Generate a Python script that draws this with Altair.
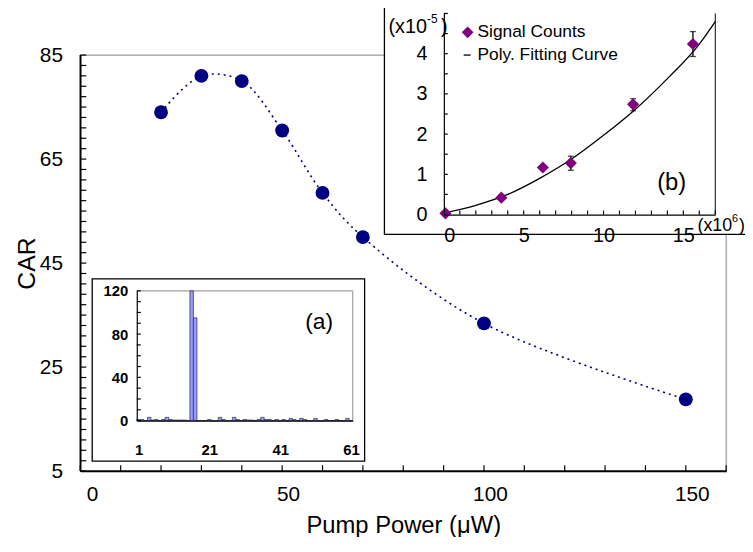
import altair as alt
import pandas as pd

# ---------------- data ----------------
# main chart
pump_power = [20, 30, 40, 50, 60, 70, 100, 150]
car = [74.0, 81.0, 80.0, 70.5, 58.5, 50.0, 33.4, 18.8]
main_x_ticks = list(range(0, 161, 10))
main_y_ticks = list(range(5, 86, 2))
main_x_labels = [0, 50, 100, 150]
main_y_labels = [5, 25, 45, 65, 85]

# inset (a): coincidence histogram
bins_a = list(range(1, 62))
counts_a = [1, 1, 0, 3, 0.5, 1, 0, 1, 3, 1,
            0.5, 0.5, 0.5, 0.5, 0, 120, 95, 0, 0, 0,
            1, 0, 0, 3, 1, 0, 0, 3, 1, 0,
            1, 0.5, 0.5, 0, 1, 3, 1, 1, 0, 1,
            0, 1, 0, 2, 1, 0, 2, 1, 0, 0,
            2, 0, 0, 1, 0, 0, 1, 0, 0, 2, 0]
a_x_labels = [1, 21, 41, 61]
a_y_labels = [0, 40, 80, 120]
a_y_ticks = list(range(0, 121, 10))

# inset (b): signal counts vs pump
sig_x = [0.1, 3.6, 6.2, 7.95, 11.85, 15.6]
sig_y = [0.03, 0.42, 1.17, 1.28, 2.74, 4.24]
err_x = [7.95, 11.85, 15.6]
err_lo = [1.10, 2.58, 3.93]
err_hi = [1.45, 2.88, 4.55]
fit_x = [0, 2, 4, 6, 8, 10, 12, 14, 16, 17]
fit_y = [0.04, 0.23, 0.50, 0.90, 1.38, 1.97, 2.62, 3.38, 4.24, 4.80]
b_x_labels = [0, 5, 10, 15]
b_y_labels = [0, 1, 2, 3, 4]
b_x_ticks = list(range(0, 18))
b_y_ticks = [i * 0.5 for i in range(0, 11)]

FONT = "Liberation Sans"
W, H = 652, 420
one = pd.DataFrame({"a": [0]})


def text(s, x, y, size, align="left", weight="normal", baseline="middle"):
    return alt.Chart(one).mark_text(
        text=s, fontSize=size, align=align, baseline=baseline,
        font=FONT, fontWeight=weight, color="black"
    ).encode(x=alt.value(x), y=alt.value(y))


def hline(x0, x1, y, color="black", width=1.2):
    return alt.Chart(one).mark_rule(color=color, strokeWidth=width).encode(
        x=alt.value(x0), x2=alt.value(x1), y=alt.value(y))


def vline(x, y0, y1, color="black", width=1.2):
    return alt.Chart(one).mark_rule(color=color, strokeWidth=width).encode(
        x=alt.value(x), y=alt.value(y0), y2=alt.value(y1))


def dom_dims(scale):
    d = scale.domain
    return d[0], d[1]


def x_ticks_rule(vals, sx, sy, ypx_len, plot_px, width=1.2):
    """vertical inward ticks along the bottom axis of a panel (all fields on its scales)"""
    y0, y1 = dom_dims(sy)
    L = (y1 - y0) * ypx_len / plot_px
    df = pd.DataFrame({"t": vals, "ya": [y0] * len(vals), "yb": [y0 + L] * len(vals)})
    return alt.Chart(df).mark_rule(color="black", strokeWidth=width).encode(
        x=alt.X("t:Q", scale=sx, axis=None),
        y=alt.Y("ya:Q", scale=sy, axis=None), y2="yb:Q")


def y_ticks_rule(vals, sx, sy, xpx_len, plot_px, width=1.2):
    """horizontal inward ticks along the left axis of a panel"""
    x0, x1 = dom_dims(sx)
    L = (x1 - x0) * xpx_len / plot_px
    df = pd.DataFrame({"t": vals, "xa": [x0] * len(vals), "xb": [x0 + L] * len(vals)})
    return alt.Chart(df).mark_rule(color="black", strokeWidth=width).encode(
        y=alt.Y("t:Q", scale=sy, axis=None),
        x=alt.X("xa:Q", scale=sx, axis=None), x2="xb:Q")


def axis_lines(sx, sy, width=1.6):
    """left and bottom axis lines of a panel drawn as data rules"""
    x0, x1 = dom_dims(sx)
    y0, y1 = dom_dims(sy)
    left = alt.Chart(pd.DataFrame({"xa": [x0], "ya": [y0], "yb": [y1]})).mark_rule(
        color="black", strokeWidth=width).encode(
        x=alt.X("xa:Q", scale=sx, axis=None), y=alt.Y("ya:Q", scale=sy, axis=None), y2="yb:Q")
    bottom = alt.Chart(pd.DataFrame({"xa": [x0], "xb": [x1], "ya": [y0]})).mark_rule(
        color="black", strokeWidth=width).encode(
        x=alt.X("xa:Q", scale=sx, axis=None), x2="xb:Q", y=alt.Y("ya:Q", scale=sy, axis=None))
    return left, bottom


# ---------------- main ----------------
xs = alt.Scale(domain=[0, 160], range=[0, W], nice=False, zero=False)
ys = alt.Scale(domain=[5, 85], range=[H, 0], nice=False, zero=False)

main_df = pd.DataFrame({"p": pump_power, "car": car})

x_axis = alt.Axis(values=main_x_labels, ticks=False, grid=False, domainColor="black",
                  domainWidth=1.2, labelFontSize=21, labelPadding=13, labelColor="black",
                  labelFont=FONT, labelOffset=6, title="Pump Power (μW)", titleFont=FONT,
                  titleFontSize=24, titleFontWeight="normal", titleColor="black",
                  titlePadding=9, orient="bottom", zindex=1)
y_axis = alt.Axis(values=main_y_labels, ticks=False, grid=False, domainColor="black",
                  domainWidth=1.2, labelFontSize=21, labelPadding=18, labelColor="black",
                  labelFont=FONT, title="CAR", titleFont=FONT, titleFontSize=25,
                  titleFontWeight="normal", titleColor="black", titlePadding=0,
                  orient="left", zindex=1)

main_line = alt.Chart(main_df).mark_line(
    interpolate="catmull-rom", color="#000080", strokeWidth=1.6,
    strokeDash=[2, 4]
).encode(x=alt.X("p:Q", scale=xs, axis=x_axis), y=alt.Y("car:Q", scale=ys, axis=y_axis))

main_pts = alt.Chart(main_df).mark_circle(size=196, color="#000080", opacity=1).encode(
    x=alt.X("p:Q", scale=xs, axis=None), y=alt.Y("car:Q", scale=ys, axis=None))

main_left, main_bottom = axis_lines(xs, ys, 1.6)

# ---------------- inset (a) ----------------
AX0, AX1, AY0, AY1 = 57, 275, 369, 238
xa = alt.Scale(domain=[0.5, 61.5], range=[AX0, AX1], nice=False, zero=False)
ya = alt.Scale(domain=[0, 120], range=[AY0, AY1], nice=False)

a_df = pd.DataFrame({"bin": bins_a, "count": counts_a})

frame_a = alt.Chart(one).mark_rect(fill="white", stroke="black", strokeWidth=1.3).encode(
    x=alt.value(12), x2=alt.value(287), y=alt.value(226), y2=alt.value(410))

a_xaxis = alt.Axis(values=a_x_labels, ticks=False, grid=False, domainColor="black", domainWidth=1.2,
                   labelFontSize=15, labelFontWeight="bold", labelFont=FONT, labelColor="black",
                   labelPadding=22, title=None, orient="bottom", offset=-(H - AY0), zindex=1)
a_yaxis = alt.Axis(values=a_y_labels, ticks=False, grid=False, domainColor="black", domainWidth=1.2,
                   labelFontSize=15, labelFontWeight="bold", labelFont=FONT, labelColor="black",
                   labelPadding=9, title=None, orient="left", offset=-AX0, zindex=1)

bars_a = alt.Chart(a_df).transform_calculate(
    x0="datum.bin - 0.5", x1="datum.bin + 0.5", z="0"
).mark_bar(fill="#9999ff", stroke="#2a2a50", strokeWidth=0.7).encode(
    x=alt.X("x0:Q", scale=xa, axis=a_xaxis), x2="x1:Q",
    y=alt.Y("count:Q", scale=ya, axis=a_yaxis, stack=None), y2="z:Q")

# ---------------- inset (b) ----------------
BX0, BX1, BY0, BY1 = 367, 641, 161, -42
xb = alt.Scale(domain=[0, 17], range=[BX0, BX1], nice=False, zero=False)
yb = alt.Scale(domain=[0, 5], range=[BY0, BY1], nice=False)

frame_b = alt.Chart(one).mark_rect(fill="white", stroke="black", strokeWidth=1.3).encode(
    x=alt.value(307), x2=alt.value(740), y=alt.value(-50), y2=alt.value(181))

b_xaxis = alt.Axis(values=b_x_labels, ticks=False, grid=False, domainColor="black", domainWidth=1.2,
                   labelFontSize=20, labelFont=FONT, labelColor="black", labelPadding=11,
                   title=None, orient="bottom", offset=-(H - BY0), zindex=1)
b_yaxis = alt.Axis(values=b_y_labels, ticks=False, grid=False, domainColor="black", domainWidth=1.2,
                   labelFontSize=20, labelFont=FONT, labelColor="black", labelPadding=17,
                   title=None, orient="left", offset=-BX0, zindex=1)

fit_df = pd.DataFrame({"fx": fit_x, "fy": fit_y})
fit_line = alt.Chart(fit_df).mark_line(interpolate="monotone", color="black", strokeWidth=1.3).encode(
    x=alt.X("fx:Q", scale=xb, axis=b_xaxis), y=alt.Y("fy:Q", scale=yb, axis=b_yaxis))

err_df = pd.DataFrame({"ex": err_x, "lo": err_lo, "hi": err_hi})
err_rule = alt.Chart(err_df).mark_rule(color="black", strokeWidth=1.3).encode(
    x=alt.X("ex:Q", scale=xb, axis=None), y=alt.Y("lo:Q", scale=yb, axis=None), y2="hi:Q")
err_cap_lo = alt.Chart(err_df).mark_tick(color="black", orient="horizontal", size=6, thickness=1.3).encode(
    x=alt.X("ex:Q", scale=xb, axis=None), y=alt.Y("lo:Q", scale=yb, axis=None))
err_cap_hi = alt.Chart(err_df).mark_tick(color="black", orient="horizontal", size=6, thickness=1.3).encode(
    x=alt.X("ex:Q", scale=xb, axis=None), y=alt.Y("hi:Q", scale=yb, axis=None))

sig_df = pd.DataFrame({"sx": sig_x, "sy": sig_y})
sig_pts = alt.Chart(sig_df).mark_point(shape="diamond", filled=True, size=150, color="#800080", opacity=1).encode(
    x=alt.X("sx:Q", scale=xb, axis=None), y=alt.Y("sy:Q", scale=yb, axis=None))

leg_diamond = alt.Chart(one).mark_point(shape="diamond", filled=True, size=140, color="#800080", opacity=1).encode(
    x=alt.value(391), y=alt.value(-23))

chart = alt.layer(
    # main panel
    hline(0, W, 0, color="#a0a0a0"),
    vline(W, 0, H, color="#a0a0a0"),
    main_left, main_bottom,
    x_ticks_rule(main_x_ticks, xs, ys, 6, H),
    y_ticks_rule(main_y_ticks, xs, ys, 6, W),
    main_line, main_pts,
    # inset (a)
    frame_a,
    hline(AX0, AX1, AY1, color="#a0a0a0"),
    vline(AX1, AY1, AY0, color="#a0a0a0"),
    bars_a,
    y_ticks_rule(a_y_ticks, xa, ya, 4, AX1 - AX0),
    text("(a)", 241, 270, 23, align="center"),
    # inset (b)
    frame_b,
    vline(BX1, BY1, BY0, width=1),
    x_ticks_rule(b_x_ticks, xb, yb, 4, BY0 - BY1),
    y_ticks_rule(b_y_ticks, xb, yb, 4, BX1 - BX0),
    fit_line, err_rule, err_cap_lo, err_cap_hi, sig_pts,
    leg_diamond, hline(387, 394, 0, width=1.3),
    text("Signal Counts", 401, -23, 17.5),
    text("Poly. Fitting Curve", 401, 0, 17.5),
    text("(b)", 597, 129, 24, align="center"),
    text("(x10", 311, -28, 20),
    text("-5", 350, -36, 12),
    text(")", 364, -28, 20),
    text("(x10", 623, 173, 18),
    text("6", 658, 166, 11),
    text(")", 665, 173, 18),
).resolve_scale(
    x="independent", y="independent"
).resolve_axis(
    x="independent", y="independent"
).properties(
    width=W, height=H,
    autosize=alt.AutoSizeParams(type="none"),
    padding={"left": 73, "top": 45, "right": 19, "bottom": 64},
).configure_view(strokeWidth=0).configure(font=FONT)

chart.save("out.html", embed_options={"renderer": "svg", "actions": False})
